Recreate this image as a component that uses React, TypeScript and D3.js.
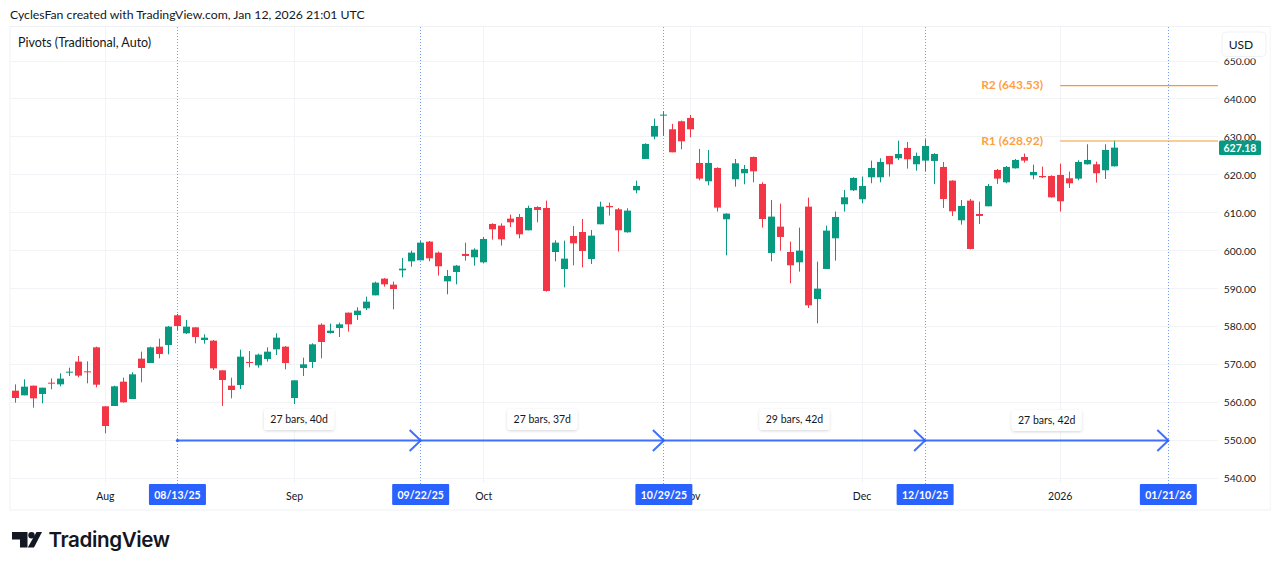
import React from "react";
import * as d3 from "d3";

const opens = [563.14,561.91,564.46,562.27,565.25,564.81,567.89,570.79,568.24,574.56,559.02,559.10,565.52,560.95,571.58,570.43,574.74,575.18,583.00,578.25,579.83,576.49,576.32,568.50,564.46,564.64,570.70,569.82,571.49,574.04,574.74,561.21,569.12,570.70,580.53,578.34,579.66,583.70,583.08,584.84,588.26,592.66,591.07,594.85,597.22,597.49,602.41,599.51,591.95,594.41,599.16,598.28,596.96,607.06,606.62,608.47,608.91,605.39,611.54,611.28,599.68,595.20,603.90,604.95,597.84,606.98,611.81,610.93,604.87,615.94,624.19,630.08,635.70,632.01,634.12,635.00,623.14,618.31,621.82,608.30,618.84,620.42,624.72,617.61,599.42,606.36,599.69,596.96,611.63,587.30,595.21,603.29,612.25,615.94,613.57,619.36,619.36,624.98,624.37,627.09,622.79,623.75,623.67,622.09,618.48,608.03,613.21,609.70,611.72,621.29,618.04,621.73,624.72,619.89,619.71,619.71,619.98,619.10,619.01,622.79,622.79,621.21,622.26];
const closes = [561.21,564.20,561.12,563.93,565.08,566.31,568.15,567.10,568.06,564.72,553.83,564.29,560.07,567.45,569.12,574.56,572.81,580.01,580.18,580.01,577.29,577.11,569.03,565.95,563.32,572.10,570.43,572.63,573.42,577.11,570.43,565.87,570.08,575.35,575.97,578.95,580.62,580.62,584.22,586.60,591.60,591.16,589.93,595.29,599.51,602.14,598.01,595.91,593.36,596.08,598.63,600.30,603.11,605.66,603.02,607.50,604.34,611.28,610.75,589.41,602.14,597.93,601.97,599.95,603.99,611.63,611.46,605.40,610.58,617.08,628.15,632.89,635.87,625.95,628.85,632.01,619.01,623.14,611.37,609.79,623.05,621.56,620.94,608.38,609.00,603.64,596.17,600.04,585.63,590.03,605.31,608.91,614.09,619.19,617.08,621.82,623.40,622.79,625.51,624.11,624.98,627.62,625.51,613.65,610.40,611.81,600.48,609.17,617.08,619.01,622.09,623.93,623.75,620.77,619.36,614.09,613.04,617.78,623.40,623.93,620.42,626.57,627.18];
const highs = [564.81,566.13,564.46,563.93,566.39,567.71,569.20,572.28,570.87,574.74,559.02,564.46,566.57,567.98,573.42,574.74,576.85,580.18,583.35,581.77,579.83,577.99,576.49,568.50,566.57,573.95,573.60,572.89,574.56,578.25,574.91,565.87,571.84,575.62,580.89,580.80,581.06,583.70,585.10,587.91,591.87,592.83,591.87,598.10,600.03,602.58,602.58,599.77,594.94,596.26,602.14,600.65,603.64,607.24,607.24,609.52,609.70,611.89,611.72,613.21,602.76,602.67,606.53,608.38,605.48,612.95,612.69,611.28,611.19,618.48,628.32,634.82,636.75,633.42,634.29,635.79,626.83,626.56,622.00,609.88,624.19,622.61,624.81,618.04,613.39,612.42,602.41,606.10,614.00,597.14,606.63,610.32,616.02,619.36,619.54,623.75,624.37,624.98,629.02,628.67,625.86,629.38,625.69,623.40,618.57,613.39,613.65,612.95,617.61,621.56,622.35,624.19,625.60,622.70,622.17,619.89,622.96,620.86,623.84,628.06,623.49,628.06,629.02];
const lows = [559.98,561.91,558.66,559.81,563.50,564.29,567.01,566.66,565.08,564.02,551.90,559.10,559.98,560.95,565.34,570.43,571.66,572.72,579.04,578.08,575.62,575.53,568.59,559.10,561.12,563.58,569.29,569.20,570.79,572.54,568.76,559.63,567.01,569.12,571.66,578.16,577.28,578.69,581.76,584.40,588.26,590.55,584.58,593.01,595.82,597.49,597.22,593.45,588.53,591.16,597.40,596.08,596.70,602.93,601.35,606.27,603.28,605.39,607.50,589.23,597.22,590.37,596.17,595.64,596.53,606.98,609.26,599.78,604.78,615.15,624.19,629.38,630.25,625.95,626.74,629.90,618.57,617.25,610.32,598.81,616.90,617.52,618.04,606.10,597.23,600.04,591.43,594.50,584.93,580.89,595.21,597.40,610.32,615.76,612.51,617.78,618.04,619.54,623.93,621.65,621.12,621.03,617.61,611.28,609.17,606.89,600.39,607.07,611.72,617.61,617.78,621.65,623.23,618.84,619.19,614.00,610.32,616.55,618.57,622.70,617.96,618.92,622.17];

const priceTicks = [650,640,630,620,610,600,590,580,570,560,550,540];
const monthLabels = ["Aug","Sep","Oct","Nov","Dec","2026"];
const monthBars = [10,31,52,75,94,116];
const cycleBars = [18,45,72,101,128];
const cycleDates = ["08/13/25","09/22/25","10/29/25","12/10/25","01/21/26"];
const cycleLabels = ["27 bars, 40d","27 bars, 37d","29 bars, 42d","27 bars, 42d"];
const pivotNames = ["R2","R1"];
const pivotValues = [643.53,628.92];
const pivotStartBar = 116;
const lastPrice = 627.18;
const arrowPrice = 550;

const UP = "#089981", DOWN = "#f23645", BLUE = "#2962ff", ORANGE = "#ff9f3f", GRID = "#f2f3f6", INK = "#131722";
const FONT = "Lato, 'Noto Sans', sans-serif";

const x = d3.scaleLinear().domain([0, 122]).range([15.3, 1114.3]);
const y = d3.scaleLinear().domain([540, 650]).range([478.5, 61]);
const crisp = (v: number) => Math.round(v - 0.5) + 0.5;
const PANE = { left: 10, right: 1218, top: 27, bottom: 483, outerRight: 1270, outerBottom: 510 };

export default function App() {
  return (
    <svg width={1280} height={570} viewBox="0 0 1280 570" style={{ position: "fixed", left: 0, top: 0, display: "block", background: "#fff" }} fontFamily={FONT}>
      <defs>
        <filter id="sh" x="-20%" y="-30%" width="140%" height="170%">
          <feDropShadow dx="0" dy="1" stdDeviation="1.6" floodColor="#000" floodOpacity="0.16" />
        </filter>
      </defs>
      <text x={10} y={18.5} fontSize={12.25} fill={INK}>CyclesFan created with TradingView.com, Jan 12, 2026 21:01 UTC</text>
      <rect x={10} y={26.5} width={PANE.outerRight - 10} height={PANE.outerBottom - 26.5} fill="#fff" stroke="#f0f1f4" strokeWidth={1} />

      {priceTicks.map((t) => (
        <line key={t} x1={PANE.left} x2={PANE.right} y1={crisp(y(t))} y2={crisp(y(t))} stroke={GRID} />
      ))}
      {monthBars.map((b) => (
        <line key={b} x1={crisp(x(b))} x2={crisp(x(b))} y1={PANE.top} y2={PANE.bottom} stroke={GRID} />
      ))}

      <text x={18} y={46.5} fontSize={12.5} fill={INK}>Pivots (Traditional, Auto)</text>

      {opens.map((o, i) => {
        const c = closes[i];
        const col = c >= o ? UP : DOWN;
        const cx = crisp(x(i));
        const top = y(Math.max(o, c));
        const h = Math.max(1, y(Math.min(o, c)) - top);
        return (
          <g key={i}>
            <line x1={cx} x2={cx} y1={y(highs[i])} y2={y(lows[i])} stroke={col} strokeWidth={1} />
            <rect x={cx - 3.5} y={top} width={7} height={h} fill={col} />
          </g>
        );
      })}

      {cycleBars.map((b) => (
        <line key={b} x1={crisp(x(b))} x2={crisp(x(b))} y1={PANE.top} y2={PANE.bottom + 1} stroke={BLUE} strokeOpacity={0.65} strokeWidth={1} strokeDasharray="1 2" />
      ))}

      {pivotValues.map((p, i) => (
        <g key={pivotNames[i]}>
          <line x1={x(pivotStartBar)} x2={PANE.right} y1={y(p)} y2={y(p)} stroke="#f59c2f" strokeWidth={1.2} />
          <text x={1043} y={y(p) + 3.8} textAnchor="end" fontSize={12} fontWeight={700} fill={ORANGE}>
            {`${pivotNames[i]} (${p.toFixed(2)})`}
          </text>
        </g>
      ))}

      <line x1={x(cycleBars[0])} x2={x(cycleBars[cycleBars.length - 1])} y1={y(arrowPrice)} y2={y(arrowPrice)} stroke={BLUE} strokeWidth={2} strokeOpacity={0.9} />
      <circle cx={x(cycleBars[0])} cy={y(arrowPrice)} r={1.6} fill={BLUE} />
      {cycleBars.slice(1).map((b) => (
        <path key={b} d={`M${x(b) - 11},${y(arrowPrice) - 10.5} L${x(b)},${y(arrowPrice)} L${x(b) - 11},${y(arrowPrice) + 10.5}`} fill="none" stroke={BLUE} strokeWidth={2} strokeOpacity={0.9} />
      ))}

      {cycleLabels.map((l, i) => {
        const cx = (x(cycleBars[i]) + x(cycleBars[i + 1])) / 2;
        const cy = i === 3 ? 420.5 : 419.5;
        return (
          <g key={i}>
            <rect x={cx - 35} y={cy - 10.5} width={70} height={21} rx={3} fill="#fff" filter="url(#sh)" />
            <text x={cx} y={cy + 3.6} textAnchor="middle" fontSize={10.5} fill={INK}>{l}</text>
          </g>
        );
      })}

      {/* price axis */}
      <rect x={PANE.right} y={27} width={PANE.outerRight - PANE.right - 0.5} height={PANE.outerBottom - 28} fill="#fff" />
      {priceTicks.map((t) => (
        <text key={t} x={1256} y={y(t) + 3.8} textAnchor="end" fontSize={10.3} fill={INK}>{t.toFixed(2)}</text>
      ))}
      <rect x={1219} y={y(lastPrice) - 7} width={42} height={14.5} rx={1.5} fill={UP} />
      <text x={1240} y={y(lastPrice) + 4} textAnchor="middle" fontSize={10.5} fontWeight={700} fill="#fff">{lastPrice.toFixed(2)}</text>
      <rect x={1219} y={27} width={50} height={31.5} fill="#fff" />
      <rect x={1222} y={32} width={44} height={24.5} rx={4} fill="#fff" stroke="#f0f1f4" />
      <text x={1241} y={49} textAnchor="middle" fontSize={12} fill={INK}>USD</text>

      {/* time axis */}
      {monthLabels.map((m, i) => (
        <text key={m} x={x(monthBars[i])} y={500} textAnchor="middle" fontSize={10.5} fill={INK}>{m}</text>
      ))}
      {cycleBars.map((b, i) => (
        <g key={b}>
          <rect x={x(b) - 28.5} y={484} width={57} height={21} rx={1} fill={BLUE} />
          <text x={x(b)} y={498.5} textAnchor="middle" fontSize={10.5} fontWeight={700} fill="#fff">{cycleDates[i]}</text>
        </g>
      ))}

      {/* logo */}
      <g fill="#131722">
        <path d="M12 532H27.5V547.5H20V539.5H12Z" />
        <circle cx={31.5} cy={535.2} r={3.2} />
        <path d="M36.5 532H42L34 547.5H27.8Z" />
      </g>
      <text x={48.5} y={547} fontSize={20.6} fontWeight={600} letterSpacing={-0.4} fill="#131722" fontFamily="Inter, sans-serif">TradingView</text>
    </svg>
  );
}
